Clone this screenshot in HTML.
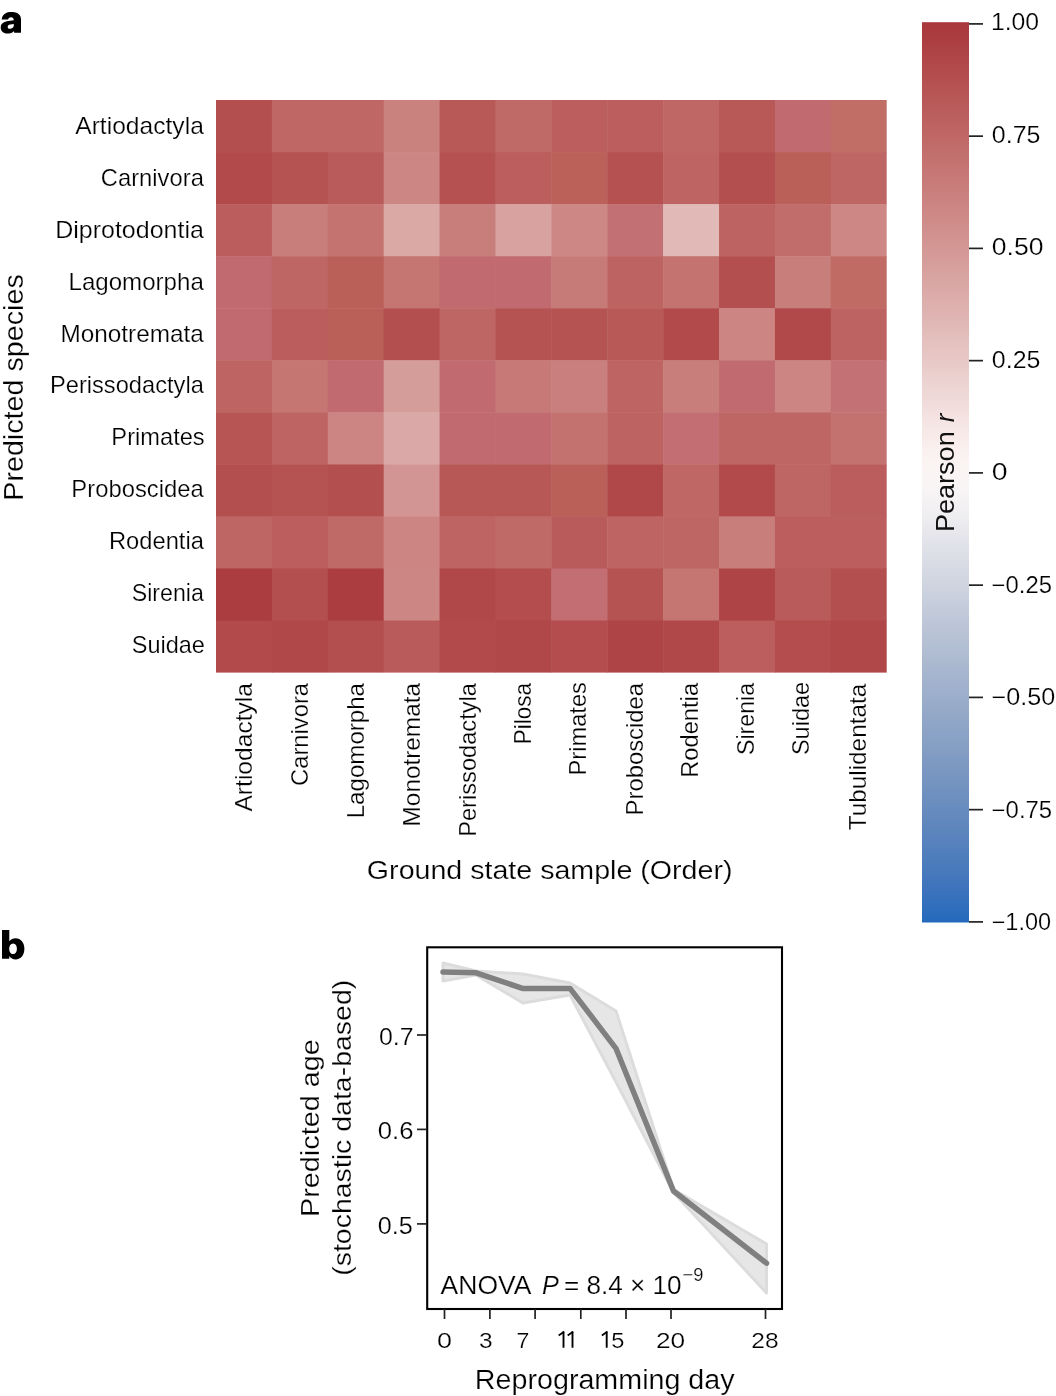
<!DOCTYPE html><html><head><meta charset="utf-8"><title>Figure</title><style>html,body{margin:0;padding:0;background:#fff;}svg{display:block;}text{font-family:"Liberation Sans",sans-serif;fill:#000;stroke:#fff;stroke-width:0.22px;}svg{will-change:transform;}</style></head><body>
<svg width="1056" height="1396" viewBox="0 0 1056 1396">
<rect x="0" y="0" width="1056" height="1396" fill="#fff"/>
<path fill="#000" fill-rule="evenodd" d="M1.6 19.6 L2.1 17.6 C3.2 14.0 6.6 12.0 11.2 12.0 C17.6 12.0 21.0 14.6 21.0 19.6 L21.0 32.8 L14.2 32.8 L14.0 30.9 C12.6 32.7 10.2 33.6 7.3 33.6 C3.1 33.6 0.7 31.0 0.7 27.6 C0.7 23.4 4.0 21.7 8.4 21.1 L13.8 20.3 C13.8 18.3 12.7 17.2 10.9 17.2 C9.1 17.2 8.3 18.2 8.1 19.6 Z M13.8 23.9 L10.2 24.6 C8.5 24.9 7.7 25.7 7.7 26.9 C7.7 28.2 8.6 28.8 9.9 28.8 C12.2 28.8 13.8 27.3 13.8 25.2 Z"/>
<path fill="#000" fill-rule="evenodd" d="M2.0 929.9 L9.3 929.9 L9.3 941.3 C10.8 939.2 13.0 938.2 15.6 938.2 C20.8 938.2 24.4 942.4 24.4 948.8 C24.4 955.2 20.8 959.4 15.6 959.4 C12.9 959.4 10.7 958.2 9.3 956.0 L9.3 958.8 L2.0 958.8 Z M13.1 943.4 C10.7 943.4 9.2 945.6 9.2 948.7 C9.2 951.8 10.7 954.1 13.1 954.1 C15.6 954.1 16.9 951.8 16.9 948.7 C16.9 945.6 15.6 943.4 13.1 943.4 Z"/>
<rect x="216.00" y="100.00" width="56.39" height="52.55" fill="#b44f4f"/>
<rect x="271.89" y="100.00" width="56.39" height="52.55" fill="#bf6765"/>
<rect x="327.78" y="100.00" width="56.39" height="52.55" fill="#bf6765"/>
<rect x="383.68" y="100.00" width="56.39" height="52.55" fill="#ca827f"/>
<rect x="439.57" y="100.00" width="56.39" height="52.55" fill="#b85857"/>
<rect x="495.46" y="100.00" width="56.39" height="52.55" fill="#c06a68"/>
<rect x="551.35" y="100.00" width="56.39" height="52.55" fill="#bb5e5d"/>
<rect x="607.24" y="100.00" width="56.39" height="52.55" fill="#bb5e5d"/>
<rect x="663.13" y="100.00" width="56.39" height="52.55" fill="#bf6765"/>
<rect x="719.03" y="100.00" width="56.39" height="52.55" fill="#b85857"/>
<rect x="774.92" y="100.00" width="56.39" height="52.55" fill="#c16b70"/>
<rect x="830.81" y="100.00" width="55.89" height="52.55" fill="#c16e67"/>
<rect x="216.00" y="152.05" width="56.39" height="52.55" fill="#b24a4b"/>
<rect x="271.89" y="152.05" width="56.39" height="52.55" fill="#b55252"/>
<rect x="327.78" y="152.05" width="56.39" height="52.55" fill="#b95b5a"/>
<rect x="383.68" y="152.05" width="56.39" height="52.55" fill="#cc8784"/>
<rect x="439.57" y="152.05" width="56.39" height="52.55" fill="#b55151"/>
<rect x="495.46" y="152.05" width="56.39" height="52.55" fill="#bb5e5d"/>
<rect x="551.35" y="152.05" width="56.39" height="52.55" fill="#bc615a"/>
<rect x="607.24" y="152.05" width="56.39" height="52.55" fill="#b55151"/>
<rect x="663.13" y="152.05" width="56.39" height="52.55" fill="#be6463"/>
<rect x="719.03" y="152.05" width="56.39" height="52.55" fill="#b44f4f"/>
<rect x="774.92" y="152.05" width="56.39" height="52.55" fill="#bb5f59"/>
<rect x="830.81" y="152.05" width="55.89" height="52.55" fill="#be6664"/>
<rect x="216.00" y="204.11" width="56.39" height="52.55" fill="#ba5d5c"/>
<rect x="271.89" y="204.11" width="56.39" height="52.55" fill="#c87e7b"/>
<rect x="327.78" y="204.11" width="56.39" height="52.55" fill="#c47371"/>
<rect x="383.68" y="204.11" width="56.39" height="52.55" fill="#daa8a5"/>
<rect x="439.57" y="204.11" width="56.39" height="52.55" fill="#c87e7b"/>
<rect x="495.46" y="204.11" width="56.39" height="52.55" fill="#d7a29f"/>
<rect x="551.35" y="204.11" width="56.39" height="52.55" fill="#cd8885"/>
<rect x="607.24" y="204.11" width="56.39" height="52.55" fill="#c37074"/>
<rect x="663.13" y="204.11" width="56.39" height="52.55" fill="#e1b9b6"/>
<rect x="719.03" y="204.11" width="56.39" height="52.55" fill="#bd6361"/>
<rect x="774.92" y="204.11" width="56.39" height="52.55" fill="#c16d6b"/>
<rect x="830.81" y="204.11" width="55.89" height="52.55" fill="#cd8885"/>
<rect x="216.00" y="256.16" width="56.39" height="52.55" fill="#c16a6f"/>
<rect x="271.89" y="256.16" width="56.39" height="52.55" fill="#be6664"/>
<rect x="327.78" y="256.16" width="56.39" height="52.55" fill="#bb5f59"/>
<rect x="383.68" y="256.16" width="56.39" height="52.55" fill="#c57572"/>
<rect x="439.57" y="256.16" width="56.39" height="52.55" fill="#c16a6f"/>
<rect x="495.46" y="256.16" width="56.39" height="52.55" fill="#c16b70"/>
<rect x="551.35" y="256.16" width="56.39" height="52.55" fill="#c77b78"/>
<rect x="607.24" y="256.16" width="56.39" height="52.55" fill="#bd6361"/>
<rect x="663.13" y="256.16" width="56.39" height="52.55" fill="#c47371"/>
<rect x="719.03" y="256.16" width="56.39" height="52.55" fill="#b44f4f"/>
<rect x="774.92" y="256.16" width="56.39" height="52.55" fill="#c87e7b"/>
<rect x="830.81" y="256.16" width="55.89" height="52.55" fill="#c06b64"/>
<rect x="216.00" y="308.22" width="56.39" height="52.55" fill="#c16b70"/>
<rect x="271.89" y="308.22" width="56.39" height="52.55" fill="#ba5d5c"/>
<rect x="327.78" y="308.22" width="56.39" height="52.55" fill="#bb5f59"/>
<rect x="383.68" y="308.22" width="56.39" height="52.55" fill="#b44f4f"/>
<rect x="439.57" y="308.22" width="56.39" height="52.55" fill="#be6664"/>
<rect x="495.46" y="308.22" width="56.39" height="52.55" fill="#b55252"/>
<rect x="551.35" y="308.22" width="56.39" height="52.55" fill="#b55252"/>
<rect x="607.24" y="308.22" width="56.39" height="52.55" fill="#b85857"/>
<rect x="663.13" y="308.22" width="56.39" height="52.55" fill="#b24a4b"/>
<rect x="719.03" y="308.22" width="56.39" height="52.55" fill="#cc8582"/>
<rect x="774.92" y="308.22" width="56.39" height="52.55" fill="#b1494a"/>
<rect x="830.81" y="308.22" width="55.89" height="52.55" fill="#bd6361"/>
<rect x="216.00" y="360.27" width="56.39" height="52.55" fill="#be6463"/>
<rect x="271.89" y="360.27" width="56.39" height="52.55" fill="#c57572"/>
<rect x="327.78" y="360.27" width="56.39" height="52.55" fill="#c16b70"/>
<rect x="383.68" y="360.27" width="56.39" height="52.55" fill="#d59d9a"/>
<rect x="439.57" y="360.27" width="56.39" height="52.55" fill="#c16b70"/>
<rect x="495.46" y="360.27" width="56.39" height="52.55" fill="#c77977"/>
<rect x="551.35" y="360.27" width="56.39" height="52.55" fill="#c97f7d"/>
<rect x="607.24" y="360.27" width="56.39" height="52.55" fill="#be6463"/>
<rect x="663.13" y="360.27" width="56.39" height="52.55" fill="#c87e7b"/>
<rect x="719.03" y="360.27" width="56.39" height="52.55" fill="#c16b70"/>
<rect x="774.92" y="360.27" width="56.39" height="52.55" fill="#cc8582"/>
<rect x="830.81" y="360.27" width="55.89" height="52.55" fill="#c47176"/>
<rect x="216.00" y="412.33" width="56.39" height="52.55" fill="#b75555"/>
<rect x="271.89" y="412.33" width="56.39" height="52.55" fill="#be6463"/>
<rect x="327.78" y="412.33" width="56.39" height="52.55" fill="#cc8582"/>
<rect x="383.68" y="412.33" width="56.39" height="52.55" fill="#daa9a7"/>
<rect x="439.57" y="412.33" width="56.39" height="52.55" fill="#c16b70"/>
<rect x="495.46" y="412.33" width="56.39" height="52.55" fill="#c16b70"/>
<rect x="551.35" y="412.33" width="56.39" height="52.55" fill="#c3726f"/>
<rect x="607.24" y="412.33" width="56.39" height="52.55" fill="#bd6361"/>
<rect x="663.13" y="412.33" width="56.39" height="52.55" fill="#c36e73"/>
<rect x="719.03" y="412.33" width="56.39" height="52.55" fill="#be6664"/>
<rect x="774.92" y="412.33" width="56.39" height="52.55" fill="#be6664"/>
<rect x="830.81" y="412.33" width="55.89" height="52.55" fill="#c3726f"/>
<rect x="216.00" y="464.38" width="56.39" height="52.55" fill="#b44f4f"/>
<rect x="271.89" y="464.38" width="56.39" height="52.55" fill="#b55252"/>
<rect x="327.78" y="464.38" width="56.39" height="52.55" fill="#b44f4f"/>
<rect x="383.68" y="464.38" width="56.39" height="52.55" fill="#d29593"/>
<rect x="439.57" y="464.38" width="56.39" height="52.55" fill="#b75756"/>
<rect x="495.46" y="464.38" width="56.39" height="52.55" fill="#b75756"/>
<rect x="551.35" y="464.38" width="56.39" height="52.55" fill="#bb5f59"/>
<rect x="607.24" y="464.38" width="56.39" height="52.55" fill="#b04748"/>
<rect x="663.13" y="464.38" width="56.39" height="52.55" fill="#bf6765"/>
<rect x="719.03" y="464.38" width="56.39" height="52.55" fill="#b24a4b"/>
<rect x="774.92" y="464.38" width="56.39" height="52.55" fill="#be6664"/>
<rect x="830.81" y="464.38" width="55.89" height="52.55" fill="#ba5d5c"/>
<rect x="216.00" y="516.44" width="56.39" height="52.55" fill="#be6664"/>
<rect x="271.89" y="516.44" width="56.39" height="52.55" fill="#bb5e5d"/>
<rect x="327.78" y="516.44" width="56.39" height="52.55" fill="#c06a68"/>
<rect x="383.68" y="516.44" width="56.39" height="52.55" fill="#cc8582"/>
<rect x="439.57" y="516.44" width="56.39" height="52.55" fill="#be6463"/>
<rect x="495.46" y="516.44" width="56.39" height="52.55" fill="#c06a68"/>
<rect x="551.35" y="516.44" width="56.39" height="52.55" fill="#b95b5a"/>
<rect x="607.24" y="516.44" width="56.39" height="52.55" fill="#be6463"/>
<rect x="663.13" y="516.44" width="56.39" height="52.55" fill="#be6664"/>
<rect x="719.03" y="516.44" width="56.39" height="52.55" fill="#c87e7b"/>
<rect x="774.92" y="516.44" width="56.39" height="52.55" fill="#bb5e5d"/>
<rect x="830.81" y="516.44" width="55.89" height="52.55" fill="#bb5e5d"/>
<rect x="216.00" y="568.49" width="56.39" height="52.55" fill="#ab3c3f"/>
<rect x="271.89" y="568.49" width="56.39" height="52.55" fill="#b44f4f"/>
<rect x="327.78" y="568.49" width="56.39" height="52.55" fill="#ab3c3f"/>
<rect x="383.68" y="568.49" width="56.39" height="52.55" fill="#cc8784"/>
<rect x="439.57" y="568.49" width="56.39" height="52.55" fill="#b04748"/>
<rect x="495.46" y="568.49" width="56.39" height="52.55" fill="#b34d4e"/>
<rect x="551.35" y="568.49" width="56.39" height="52.55" fill="#c36e73"/>
<rect x="607.24" y="568.49" width="56.39" height="52.55" fill="#b55252"/>
<rect x="663.13" y="568.49" width="56.39" height="52.55" fill="#c57572"/>
<rect x="719.03" y="568.49" width="56.39" height="52.55" fill="#af4446"/>
<rect x="774.92" y="568.49" width="56.39" height="52.55" fill="#b95b5a"/>
<rect x="830.81" y="568.49" width="55.89" height="52.55" fill="#b44f4f"/>
<rect x="216.00" y="620.55" width="56.39" height="52.05" fill="#b24a4b"/>
<rect x="271.89" y="620.55" width="56.39" height="52.05" fill="#b04748"/>
<rect x="327.78" y="620.55" width="56.39" height="52.05" fill="#b44f4f"/>
<rect x="383.68" y="620.55" width="56.39" height="52.05" fill="#b95b5a"/>
<rect x="439.57" y="620.55" width="56.39" height="52.05" fill="#b24a4b"/>
<rect x="495.46" y="620.55" width="56.39" height="52.05" fill="#b04748"/>
<rect x="551.35" y="620.55" width="56.39" height="52.05" fill="#b34d4e"/>
<rect x="607.24" y="620.55" width="56.39" height="52.05" fill="#af4446"/>
<rect x="663.13" y="620.55" width="56.39" height="52.05" fill="#b04748"/>
<rect x="719.03" y="620.55" width="56.39" height="52.05" fill="#bb5e5d"/>
<rect x="774.92" y="620.55" width="56.39" height="52.05" fill="#b34d4e"/>
<rect x="830.81" y="620.55" width="55.89" height="52.05" fill="#b04748"/>
<text transform="translate(75.25,134.10) scale(1.0614,1)" font-size="23.20">Artiodactyla</text>
<text transform="translate(100.79,185.90) scale(1.0252,1)" font-size="23.20">Carnivora</text>
<text transform="translate(55.15,238.10) scale(1.0779,1)" font-size="23.20">Diprotodontia</text>
<text transform="translate(68.52,289.80) scale(1.0392,1)" font-size="23.20">Lagomorpha</text>
<text transform="translate(60.40,342.00) scale(1.0498,1)" font-size="23.20">Monotremata</text>
<text transform="translate(49.96,393.10) scale(1.0204,1)" font-size="23.20">Perissodactyla</text>
<text transform="translate(111.36,444.80) scale(1.0204,1)" font-size="23.20">Primates</text>
<text transform="translate(71.34,497.00) scale(1.0278,1)" font-size="23.20">Proboscidea</text>
<text transform="translate(108.95,548.80) scale(1.0224,1)" font-size="23.20">Rodentia</text>
<text transform="translate(131.75,601.00) scale(0.9991,1)" font-size="23.20">Sirenia</text>
<text transform="translate(131.73,653.10) scale(1.0135,1)" font-size="23.20">Suidae</text>
<text transform="translate(252.30,811.55) rotate(-90) scale(1.0614,1)" font-size="23.20">Artiodactyla</text>
<text transform="translate(307.90,786.01) rotate(-90) scale(1.0252,1)" font-size="23.20">Carnivora</text>
<text transform="translate(363.90,818.28) rotate(-90) scale(1.0392,1)" font-size="23.20">Lagomorpha</text>
<text transform="translate(419.60,826.40) rotate(-90) scale(1.0498,1)" font-size="23.20">Monotremata</text>
<text transform="translate(475.70,836.84) rotate(-90) scale(1.0204,1)" font-size="23.20">Perissodactyla</text>
<text transform="translate(531.20,744.35) rotate(-90) scale(0.9725,1)" font-size="23.20">Pilosa</text>
<text transform="translate(586.40,775.44) rotate(-90) scale(1.0204,1)" font-size="23.20">Primates</text>
<text transform="translate(642.80,815.46) rotate(-90) scale(1.0278,1)" font-size="23.20">Proboscidea</text>
<text transform="translate(698.30,777.85) rotate(-90) scale(1.0224,1)" font-size="23.20">Rodentia</text>
<text transform="translate(754.30,755.05) rotate(-90) scale(0.9991,1)" font-size="23.20">Sirenia</text>
<text transform="translate(809.30,755.07) rotate(-90) scale(1.0135,1)" font-size="23.20">Suidae</text>
<text transform="translate(865.70,830.15) rotate(-90) scale(1.0473,1)" font-size="23.20">Tubulidentata</text>
<text transform="translate(366.86,878.70) scale(1.0799,1)" font-size="26.50">Ground state sample (Order)</text>
<text transform="translate(23.30,500.75) rotate(-90) scale(1.0633,1)" font-size="27.00">Predicted species</text>
<defs><linearGradient id="cb" x1="0" y1="0" x2="0" y2="1"><stop offset="0.0000" stop-color="#a9373b"/><stop offset="0.0156" stop-color="#ab3c3f"/><stop offset="0.0312" stop-color="#ae4244"/><stop offset="0.0469" stop-color="#b1494a"/><stop offset="0.0625" stop-color="#b44f4f"/><stop offset="0.0781" stop-color="#b75555"/><stop offset="0.0938" stop-color="#b95b5a"/><stop offset="0.1094" stop-color="#bc6160"/><stop offset="0.1250" stop-color="#bf6765"/><stop offset="0.1406" stop-color="#c16d6b"/><stop offset="0.1562" stop-color="#c47371"/><stop offset="0.1719" stop-color="#c77977"/><stop offset="0.1875" stop-color="#c97f7d"/><stop offset="0.2031" stop-color="#cc8582"/><stop offset="0.2188" stop-color="#ce8b88"/><stop offset="0.2344" stop-color="#d1918e"/><stop offset="0.2500" stop-color="#d39794"/><stop offset="0.2656" stop-color="#d59d9a"/><stop offset="0.2812" stop-color="#d8a3a0"/><stop offset="0.2969" stop-color="#daa9a7"/><stop offset="0.3125" stop-color="#ddafad"/><stop offset="0.3281" stop-color="#dfb5b3"/><stop offset="0.3438" stop-color="#e2bcb9"/><stop offset="0.3594" stop-color="#e5c2c0"/><stop offset="0.3750" stop-color="#e7c8c6"/><stop offset="0.3906" stop-color="#eacfcd"/><stop offset="0.4062" stop-color="#edd5d3"/><stop offset="0.4219" stop-color="#f0dbda"/><stop offset="0.4375" stop-color="#f3e2e0"/><stop offset="0.4531" stop-color="#f6e8e7"/><stop offset="0.4688" stop-color="#f9eeed"/><stop offset="0.4844" stop-color="#faf3f2"/><stop offset="0.5000" stop-color="#faf5f4"/><stop offset="0.5156" stop-color="#f9f5f5"/><stop offset="0.5312" stop-color="#f5f2f4"/><stop offset="0.5469" stop-color="#efeef1"/><stop offset="0.5625" stop-color="#e9e9ed"/><stop offset="0.5781" stop-color="#e2e3ea"/><stop offset="0.5938" stop-color="#dcdee6"/><stop offset="0.6094" stop-color="#d5d9e3"/><stop offset="0.6250" stop-color="#cfd4e0"/><stop offset="0.6406" stop-color="#c8cfdd"/><stop offset="0.6562" stop-color="#c2cada"/><stop offset="0.6719" stop-color="#bbc5d7"/><stop offset="0.6875" stop-color="#b5c0d4"/><stop offset="0.7031" stop-color="#afbcd1"/><stop offset="0.7188" stop-color="#a8b7cf"/><stop offset="0.7344" stop-color="#a2b2cd"/><stop offset="0.7500" stop-color="#9baecb"/><stop offset="0.7656" stop-color="#95a9c8"/><stop offset="0.7812" stop-color="#8fa5c7"/><stop offset="0.7969" stop-color="#88a1c5"/><stop offset="0.8125" stop-color="#829cc3"/><stop offset="0.8281" stop-color="#7b98c2"/><stop offset="0.8438" stop-color="#7594c0"/><stop offset="0.8594" stop-color="#6e90bf"/><stop offset="0.8750" stop-color="#678bbe"/><stop offset="0.8906" stop-color="#6087bd"/><stop offset="0.9062" stop-color="#5983bd"/><stop offset="0.9219" stop-color="#517fbc"/><stop offset="0.9375" stop-color="#4a7bbc"/><stop offset="0.9531" stop-color="#4276bc"/><stop offset="0.9688" stop-color="#3972bc"/><stop offset="0.9844" stop-color="#2f6ebc"/><stop offset="1.0000" stop-color="#2369bd"/></linearGradient></defs>
<rect x="922" y="22.2" width="47" height="900.3" fill="url(#cb)"/>
<line x1="969" x2="983" y1="23.90" y2="23.90" stroke="#222" stroke-width="1.7"/>
<text transform="translate(990.91,30.30) scale(1.0687,1)" font-size="23.20">1.00</text>
<line x1="969" x2="983" y1="136.15" y2="136.15" stroke="#222" stroke-width="1.7"/>
<text transform="translate(991.82,142.80) scale(1.0769,1)" font-size="23.20">0.75</text>
<line x1="969" x2="983" y1="248.40" y2="248.40" stroke="#222" stroke-width="1.7"/>
<text transform="translate(991.76,255.30) scale(1.1444,1)" font-size="23.20">0.50</text>
<line x1="969" x2="983" y1="360.65" y2="360.65" stroke="#222" stroke-width="1.7"/>
<text transform="translate(991.82,367.80) scale(1.0769,1)" font-size="23.20">0.25</text>
<line x1="969" x2="983" y1="472.90" y2="472.90" stroke="#222" stroke-width="1.7"/>
<text transform="translate(991.69,480.30) scale(1.2263,1)" font-size="23.20">0</text>
<line x1="969" x2="983" y1="585.15" y2="585.15" stroke="#222" stroke-width="1.7"/>
<text transform="translate(991.62,592.80) scale(1.0286,1)" font-size="23.20">−0.25</text>
<line x1="969" x2="983" y1="697.40" y2="697.40" stroke="#222" stroke-width="1.7"/>
<text transform="translate(991.56,705.30) scale(1.0856,1)" font-size="23.20">−0.50</text>
<line x1="969" x2="983" y1="809.65" y2="809.65" stroke="#222" stroke-width="1.7"/>
<text transform="translate(991.62,817.80) scale(1.0321,1)" font-size="23.20">−0.75</text>
<line x1="969" x2="983" y1="921.90" y2="921.90" stroke="#222" stroke-width="1.7"/>
<text transform="translate(991.64,930.30) scale(1.0132,1)" font-size="23.20">−1.00</text>
<text transform="translate(953.90,532.12) rotate(-90) scale(1.0221,1)" font-size="26.50" style="stroke:none;fill:#111">Pearson</text>
<text transform="translate(953.90,422.33) rotate(-90) scale(0.9809,1)" font-size="26.50" font-style="italic" style="stroke:none;fill:#111">r</text>
<rect x="427.2" y="947.3" width="354.8" height="361.7" fill="none" stroke="#000" stroke-width="2.1"/>
<line x1="417" x2="427" y1="1035.0" y2="1035.0" stroke="#222" stroke-width="1.7"/>
<text transform="translate(378.93,1044.90) scale(1.0736,1)" font-size="23.20">0.7</text>
<line x1="417" x2="427" y1="1129.4" y2="1129.4" stroke="#222" stroke-width="1.7"/>
<text transform="translate(377.80,1139.30) scale(1.1080,1)" font-size="23.20">0.6</text>
<line x1="417" x2="427" y1="1223.9" y2="1223.9" stroke="#222" stroke-width="1.7"/>
<text transform="translate(377.82,1233.80) scale(1.0866,1)" font-size="23.20">0.5</text>
<line x1="444.5" x2="444.5" y1="1309" y2="1319" stroke="#222" stroke-width="1.7"/>
<line x1="489.9" x2="489.9" y1="1309" y2="1319" stroke="#222" stroke-width="1.7"/>
<line x1="535.1" x2="535.1" y1="1309" y2="1319" stroke="#222" stroke-width="1.7"/>
<line x1="580.8" x2="580.8" y1="1309" y2="1319" stroke="#222" stroke-width="1.7"/>
<line x1="626.0" x2="626.0" y1="1309" y2="1319" stroke="#222" stroke-width="1.7"/>
<line x1="671.0" x2="671.0" y1="1309" y2="1319" stroke="#222" stroke-width="1.7"/>
<line x1="765.5" x2="765.5" y1="1309" y2="1319" stroke="#222" stroke-width="1.7"/>
<text transform="translate(436.95,1347.90) scale(1.1941,1)" font-size="22.60">0</text>
<text transform="translate(478.97,1347.90) scale(1.0826,1)" font-size="22.60">3</text>
<text transform="translate(516.52,1347.90) scale(1.0220,1)" font-size="22.60">7</text>
<text transform="translate(611.15,1347.90) scale(1.0453,1)" font-size="22.60">5</text>
<text transform="translate(655.88,1347.90) scale(1.1636,1)" font-size="22.60">20</text>
<text transform="translate(751.27,1347.90) scale(1.0860,1)" font-size="22.60">28</text>
<path d="M563.50 1331.40 L563.50 1347.70" stroke="#000" stroke-width="1.9" fill="none"/><path d="M564.00 1331.80 L558.70 1335.50" stroke="#000" stroke-width="1.7" fill="none"/>
<path d="M572.50 1331.40 L572.50 1347.70" stroke="#000" stroke-width="1.9" fill="none"/><path d="M573.00 1331.80 L567.70 1335.50" stroke="#000" stroke-width="1.7" fill="none"/>
<path d="M606.70 1331.40 L606.70 1347.70" stroke="#000" stroke-width="1.9" fill="none"/><path d="M607.20 1331.80 L601.90 1335.50" stroke="#000" stroke-width="1.7" fill="none"/>
<text transform="translate(474.85,1388.80) scale(1.0621,1)" font-size="27.00">Reprogramming day</text>
<text transform="translate(318.90,1217.07) rotate(-90) scale(1.0888,1)" font-size="26.50">Predicted age</text>
<text transform="translate(351.00,1275.77) rotate(-90) scale(1.0751,1)" font-size="26.50">(stochastic data-based)</text>
<polygon points="443.0,963.0 476.0,971.0 523.0,974.0 570.0,983.0 616.0,1011.0 673.5,1189.5 766.5,1244.0 766.5,1293.0 673.5,1192.5 616.0,1082.0 570.0,995.0 523.0,1003.0 476.0,975.0 443.0,981.0" fill="#e6e6e6" stroke="#dcdcdc" stroke-width="3" stroke-linejoin="round"/>
<polyline points="443.0,972.0 476.2,972.8 523.2,988.6 570.2,988.6 615.9,1048.3 673.5,1191.0 766.5,1263.2" fill="none" stroke="#808080" stroke-width="5.5" stroke-linejoin="round" stroke-linecap="round"/>
<text transform="translate(440.55,1293.90) scale(1.0285,1)" font-size="25.80">ANOVA</text>
<text transform="translate(541.92,1293.90) scale(0.9784,1)" font-size="25.80" font-style="italic">P</text>
<text transform="translate(563.92,1293.90) scale(1.0129,1)" font-size="25.80">= 8.4 × 10</text>
<text transform="translate(682.50,1281.40) scale(0.9894,1)" font-size="18.50">−9</text>
</svg></body></html>
